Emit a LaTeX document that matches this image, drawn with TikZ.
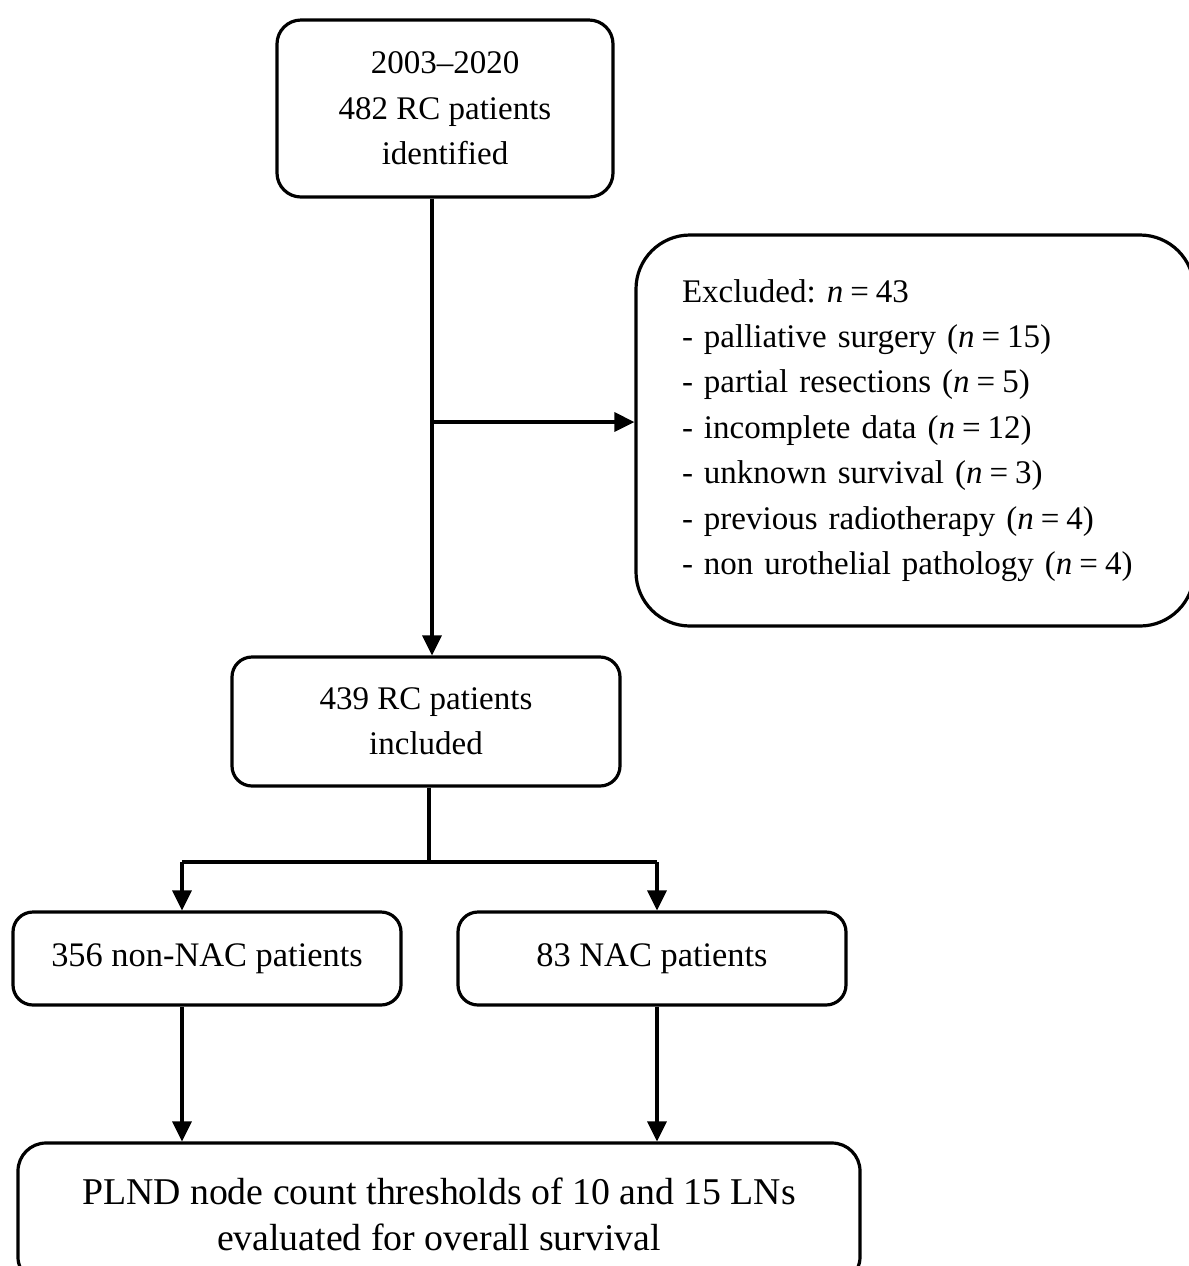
\documentclass[tikz,border=0pt]{standalone}
\usepackage{fontspec}
\setmainfont{Liberation Serif}
\frenchspacing
\usetikzlibrary{arrows.meta}
\newcommand{\nn}[1]{(\textit{n}\kern3.5pt=\kern3.5pt#1)}
\begin{document}
\begin{tikzpicture}[x=0.5pt,y=-0.5pt,
  box/.style={draw=black,line width=1.6pt,rounded corners=12pt,align=center,
    font=\fontsize{16.5}{22.7}\selectfont,inner sep=0pt},
  arr/.style={line width=1.6pt,-{Triangle[length=10pt,width=9.5pt]}},
  ln/.style={line width=1.6pt}]
\useasboundingbox (0,0) rectangle (1189,1266);
\clip (0,0) rectangle (1189,1266);
\node[box,minimum width=168pt,minimum height=88.5pt] (top) at (445,108.5)
  {2003--2020\\482 RC patients\\identified};
\node[box,rounded corners=27pt,minimum height=195.5pt,text width=233pt,inner xsep=23pt,align=left] (excl) at (915,430.5)
  {Excluded: \textit{n}\kern3.5pt=\kern3.5pt43\\
   - palliative surgery \nn{15}\\
   - partial resections \nn{5}\\
   - incomplete data \nn{12}\\
   - unknown survival \nn{3}\\
   - previous radiotherapy \nn{4}\\
   - non urothelial pathology \nn{4}};
\node[box,rounded corners=10pt,minimum width=194pt,minimum height=64.5pt] (mid) at (426,721.5)
  {439 RC patients\\included};
\node[box,rounded corners=10pt,minimum width=194pt,minimum height=46.5pt,
  font=\fontsize{17.2}{22.7}\selectfont] (left) at (207,958.5)
  {356 non-NAC patients};
\node[box,rounded corners=10pt,minimum width=194pt,minimum height=46.5pt,
  font=\fontsize{17.2}{22.7}\selectfont] (right) at (652,958.5)
  {83 NAC patients};
\node[box,rounded corners=14pt,minimum width=421pt,minimum height=71pt,
  font=\fontsize{18.9}{23}\selectfont] (bot) at (439,1214)
  {PLND node count thresholds of 10 and 15 LNs\\evaluated for overall survival};
\coordinate (c1) at (432,422);
\coordinate (c2) at (429,862);
\coordinate (cl) at (182,862);
\coordinate (cr) at (657,862);
\draw[arr] (top.south -| c1) -- (mid.north -| c1);
\draw[arr] (c1) -- (excl.west |- c1);
\draw[ln] (mid.south -| c2) -- (c2);
\draw[ln] (cl) -- (cr);
\draw[arr] (cl) -- (left.north -| cl);
\draw[arr] (cr) -- (right.north -| cr);
\draw[arr] (left.south -| cl) -- (bot.north -| cl);
\draw[arr] (right.south -| cr) -- (bot.north -| cr);
\end{tikzpicture}
\end{document}
